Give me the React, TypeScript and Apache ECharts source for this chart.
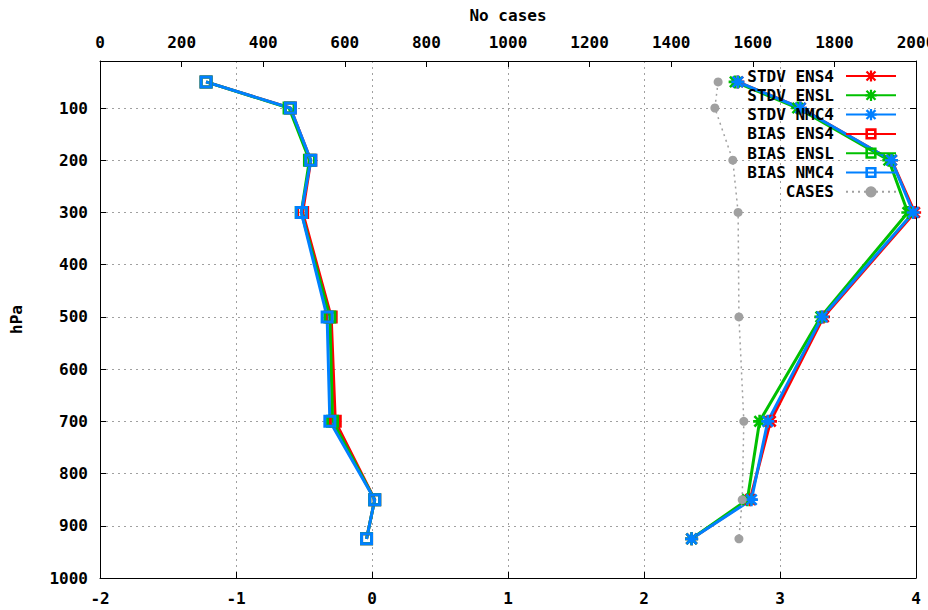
import React, { useEffect, useRef } from "react";
import * as echarts from "echarts";

const levels = [50, 100, 200, 300, 500, 700, 850, 925];
const stdvENS4 = [2.69, 3.15, 3.82, 3.99, 3.32, 2.93, 2.78, 2.35];
const stdvENSL = [2.67, 3.13, 3.8, 3.94, 3.3, 2.85, 2.76, 2.35];
const stdvNMC4 = [2.69, 3.15, 3.82, 3.98, 3.31, 2.91, 2.79, 2.35];
const biasENS4 = [-1.22, -0.6, -0.45, -0.51, -0.3, -0.27, 0.02, -0.04];
const biasENSL = [-1.22, -0.61, -0.46, -0.52, -0.31, -0.29, 0.02, -0.04];
const biasNMC4 = [-1.22, -0.6, -0.45, -0.52, -0.33, -0.31, 0.02, -0.04];
const cases = [1515, 1507, 1551, 1564, 1566, 1578, 1574, 1566];

const yTicks = [100, 200, 300, 400, 500, 600, 700, 800, 900, 1000];

const RED = "#ff0000";
const GREEN = "#00c000";
const BLUE = "#0080ff";
const GREY = "#a0a0a0";
const FONT = "DejaVu Sans Mono";

const ASTERISK =
  "path://M0 8H20V12H0Z M8 0H12V20H8Z M3.41 0.59L19.41 16.59L16.59 19.41L0.59 3.41Z M16.59 0.59L19.41 3.41L3.41 19.41L0.59 16.59Z";
const OPEN_SQUARE = "path://M0 0H13V13H0Z M3 3V10H10V3Z";

function pairs(xs: number[]) {
  return xs.map((v, i) => [v, levels[i]]);
}

const plain = (v: number) => String(v);

export default function App() {
  const ref = useRef<HTMLDivElement>(null);
  useEffect(() => {
    if (!ref.current) return;
    const chart = echarts.init(ref.current, null, { renderer: "svg" });
    const labelStyle = {
      fontFamily: FONT,
      fontWeight: "bold" as const,
      fontSize: 16,
      color: "#000",
    };
    const mk = (name: string, vals: number[], color: string, symbol: string) => ({
      name,
      type: "line",
      xAxisIndex: 0,
      yAxisIndex: 0,
      data: pairs(vals),
      symbol,
      symbolSize: 13,
      showAllSymbol: true,
      lineStyle: { color, width: 3 },
      itemStyle: { color },
      emphasis: { disabled: true },
    });
    chart.setOption({
      animation: false,
      grid: {
        left: 100,
        right: 12,
        top: 61,
        bottom: 32,
        containLabel: false,
        outerBoundsMode: "none",
      },
      legend: {
        right: 31,
        top: 68,
        padding: 0,
        orient: "vertical",
        align: "right",
        itemWidth: 50,
        itemHeight: 14,
        itemGap: 3.3,
        selectedMode: false,
        data: [
          "STDV ENS4",
          "STDV ENSL",
          "STDV NMC4",
          "BIAS ENS4",
          "BIAS ENSL",
          "BIAS NMC4",
          "CASES",
        ],
        formatter: (n: string) => `{a|${n}}`,
        textStyle: {
          ...labelStyle,
          rich: {
            a: {
              ...labelStyle,
              width: 90,
              align: "right",
              padding: [0, 7, 0, 0],
              lineHeight: 14,
            },
          },
        },
      },
      xAxis: [
        {
          type: "value",
          position: "bottom",
          min: -2,
          max: 4,
          interval: 1,
          axisLine: { show: true, onZero: false, lineStyle: { color: "#000", width: 1 } },
          axisTick: { show: true, inside: true, length: 6, lineStyle: { color: "#000" } },
          axisLabel: { ...labelStyle, margin: 12, formatter: plain },
          splitLine: { show: true, lineStyle: { color: GREY, type: [2, 4], width: 1 } },
        },
        {
          type: "value",
          position: "top",
          min: 0,
          max: 2000,
          interval: 200,
          name: "No cases",
          nameLocation: "middle",
          nameGap: 38,
          nameTextStyle: labelStyle,
          axisLine: { show: true, onZero: false, lineStyle: { color: "#000", width: 1 } },
          axisTick: { show: true, inside: true, length: 6, lineStyle: { color: "#000" } },
          axisLabel: { ...labelStyle, margin: 11, showMaxLabel: true, formatter: plain },
          splitLine: { show: false },
        },
      ],
      yAxis: [
        {
          type: "value",
          position: "left",
          inverse: true,
          min: 10,
          max: 1000,
          name: "hPa",
          nameLocation: "middle",
          nameRotate: 90,
          nameGap: 76,
          nameTextStyle: labelStyle,
          axisLine: { show: true, onZero: false, lineStyle: { color: "#000", width: 1 } },
          axisTick: {
            show: true,
            inside: true,
            length: 6,
            customValues: yTicks,
            lineStyle: { color: "#000" },
          },
          axisLabel: { ...labelStyle, margin: 12, customValues: yTicks, formatter: plain },
          splitLine: { show: true, lineStyle: { color: GREY, type: [2, 4], width: 1 } },
        },
        {
          type: "value",
          position: "right",
          inverse: true,
          min: 10,
          max: 1000,
          axisLine: { show: true, onZero: false, lineStyle: { color: "#000", width: 1 } },
          axisTick: {
            show: true,
            inside: true,
            length: 6,
            customValues: yTicks,
            lineStyle: { color: "#000" },
          },
          axisLabel: { show: false, customValues: yTicks },
          splitLine: { show: false },
        },
      ],
      series: [
        mk("STDV ENS4", stdvENS4, RED, ASTERISK),
        mk("STDV ENSL", stdvENSL, GREEN, ASTERISK),
        mk("STDV NMC4", stdvNMC4, BLUE, ASTERISK),
        mk("BIAS ENS4", biasENS4, RED, OPEN_SQUARE),
        mk("BIAS ENSL", biasENSL, GREEN, OPEN_SQUARE),
        mk("BIAS NMC4", biasNMC4, BLUE, OPEN_SQUARE),
        {
          name: "CASES",
          type: "line",
          xAxisIndex: 1,
          yAxisIndex: 0,
          data: cases.map((v, i) => [v, levels[i]]),
          symbol: "circle",
          symbolSize: 9,
          lineStyle: { color: GREY, width: 1.5, type: [2, 4] },
          itemStyle: { color: GREY },
          emphasis: { disabled: true },
        },
      ],
    });
    return () => chart.dispose();
  }, []);
  return (
    <div
      ref={ref}
      style={{ position: "absolute", left: 0, top: 0, width: 928, height: 610, background: "#fff" }}
    />
  );
}
